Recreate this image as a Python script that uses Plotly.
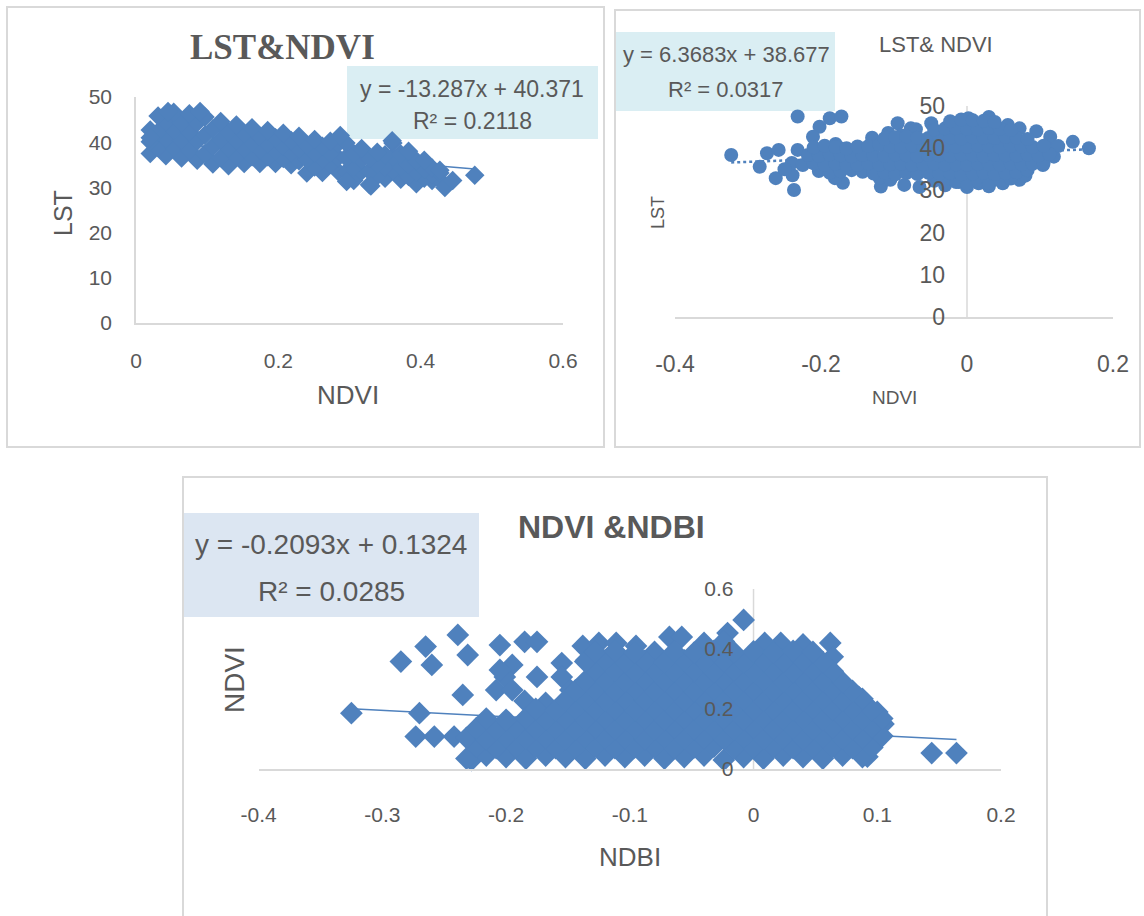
import plotly.graph_objects as go

W, H = 1144, 916

# ---------------- data ----------------
# Chart 1: LST vs NDVI (diamonds) -- rows read across the dense band
c1_row1_x = [0.020, 0.042, 0.064, 0.086, 0.108, 0.130, 0.152, 0.174, 0.196, 0.218, 0.240, 0.262, 0.284, 0.306, 0.328, 0.350, 0.372, 0.394, 0.416]
c1_row1_y = [37.5, 37.0, 36.5, 36.0, 35.2, 34.8, 35.3, 35.3, 35.3, 35.0, 33.2, 33.3, 33.5, 31.5, 30.6, 32.0, 31.8, 30.8, 31.5]
c1_row2_x = [0.031, 0.053, 0.075, 0.097, 0.119, 0.141, 0.163, 0.185, 0.207, 0.229, 0.251, 0.273, 0.295, 0.317, 0.339, 0.361, 0.383, 0.405, 0.427]
c1_row2_y = [38.8, 38.8, 38.2, 37.5, 36.6, 36.9, 36.8, 36.8, 36.4, 35.9, 34.5, 35.1, 33.4, 33.6, 32.5, 33.8, 32.4, 32.0, 31.7]
c1_row3_x = [0.020, 0.042, 0.064, 0.086, 0.108, 0.130, 0.152, 0.174, 0.196, 0.218, 0.240, 0.262, 0.284, 0.306, 0.328, 0.350, 0.372, 0.394, 0.416]
c1_row3_y = [40.1, 40.8, 40.4, 40.2, 39.1, 38.6, 38.6, 38.3, 38.1, 37.7, 36.3, 36.2, 36.6, 34.5, 33.6, 34.6, 34.6, 33.4, 32.9]
c1_row4_x = [0.031, 0.053, 0.075, 0.097, 0.119, 0.141, 0.163, 0.185, 0.207, 0.229, 0.251, 0.273, 0.295, 0.317, 0.339, 0.361, 0.383, 0.405, 0.427]
c1_row4_y = [42.3, 42.7, 42.3, 41.6, 40.6, 40.4, 40.0, 39.7, 39.2, 38.6, 37.6, 37.6, 36.6, 36.1, 35.2, 36.8, 35.2, 34.0, 33.2]
c1_row5_x = [0.020, 0.042, 0.064, 0.086, 0.108, 0.130, 0.152, 0.174, 0.196, 0.218, 0.240, 0.262, 0.284, 0.306, 0.328, 0.350, 0.372, 0.394, 0.416]
c1_row5_y = [42.7, 44.6, 44.3, 44.3, 43.0, 42.3, 41.9, 41.3, 41.0, 40.4, 39.4, 39.1, 39.7, 37.5, 36.5, 37.2, 37.4, 35.9, 34.3]
c1_row6_x = [0.031, 0.053, 0.075, 0.097, 0.119, 0.141, 0.163, 0.185, 0.207, 0.229, 0.251, 0.273, 0.295, 0.317, 0.339, 0.361, 0.383, 0.405, 0.427]
c1_row6_y = [45.8, 46.6, 46.3, 45.6, 44.6, 43.8, 43.2, 42.6, 42.0, 41.3, 40.6, 40.2, 39.8, 38.6, 37.8, 39.8, 38.0, 36.0, 33.8]
c1_extra_x = [0.020, 0.287, 0.434, 0.445, 0.476, 0.045, 0.090, 0.360, 0.330, 0.296]
c1_extra_y = [41.0, 41.5, 30.0, 31.5, 32.7, 46.8, 46.8, 40.3, 30.3, 31.3]
c1_ndvi = c1_row1_x + c1_row2_x + c1_row3_x + c1_row4_x + c1_row5_x + c1_row6_x + c1_extra_x
c1_lst = c1_row1_y + c1_row2_y + c1_row3_y + c1_row4_y + c1_row5_y + c1_row6_y + c1_extra_y
c1_slope, c1_intercept, c1_r2 = -13.287, 40.371, 0.2118

# Chart 2: LST vs NDVI (circles)
c2_out_x = [
    -0.323, -0.284, -0.274, -0.258, -0.262, -0.237, -0.239, -0.232, -0.232, -0.188,
    -0.172, -0.202, -0.211, -0.202, -0.174, -0.170, -0.181, -0.118, -0.095, -0.077,
    -0.049, -0.086, -0.108, 0.002, 0.030, 0.056, 0.072, 0.114, 0.145, 0.167,
    0.104, 0.119, 0.072, 0.049, 0.016, -0.011, -0.044,
    -0.240, -0.250, -0.120, -0.105, -0.065, -0.030, 0.000, 0.030, 0.080, 0.110,
    0.125, 0.095, -0.070, -0.090, -0.130, -0.110, -0.180,
]
c2_out_y = [
    38.4, 35.6, 38.8, 39.6, 32.9, 30.1, 33.6, 39.6, 47.5, 47.1,
    47.5, 45.1, 42.7, 36.5, 40.0, 31.8, 32.9, 30.9, 45.9, 44.7,
    45.9, 31.3, 43.6, 47.1, 47.4, 45.5, 44.7, 42.7, 41.5, 40.0,
    36.0, 38.0, 32.5, 31.7, 31.7, 32.0, 33.2,
    36.5, 35.0, 33.0, 32.5, 30.8, 31.2, 30.8, 31.0, 33.5, 40.0,
    40.5, 44.0, 44.5, 43.0, 42.5, 42.5, 41.0,
]
c2_r1_x = [-0.045, -0.030, -0.015, 0.000, 0.015, 0.030, 0.045, 0.060]
c2_r1_y = [32.3, 31.8, 32.0, 31.6, 32.2, 31.8, 32.4, 32.8]
c2_r2_x = [-0.203, -0.188, -0.173, -0.158, -0.143, -0.128, -0.113, -0.098, -0.083, -0.068,
           -0.053, -0.038, -0.023, -0.008, 0.008, 0.023, 0.038, 0.053, 0.068, 0.083]
c2_r2_y = [34.6, 34.2, 34.5, 34.8, 34.4, 34.0, 34.3, 33.8, 34.1, 33.9,
           34.2, 34.0, 34.1, 33.8, 34.0, 34.2, 33.9, 34.1, 34.3, 34.8]
c2_r3_x = [-0.225, -0.210, -0.195, -0.180, -0.165, -0.150, -0.135, -0.120, -0.105, -0.090, -0.075, -0.060,
           -0.045, -0.030, -0.015, 0.000, 0.015, 0.030, 0.045, 0.060, 0.075, 0.090, 0.105]
c2_r3_y = [36.0, 36.4, 36.1, 36.3, 36.2, 36.0, 36.4, 36.1, 36.2, 36.3, 36.0, 36.2,
           36.4, 36.1, 36.2, 36.0, 36.3, 36.2, 36.1, 36.4, 36.2, 36.3, 36.5]
c2_r4_x = [-0.218, -0.203, -0.188, -0.173, -0.158, -0.143, -0.128, -0.113, -0.098, -0.083, -0.068, -0.053,
           -0.038, -0.023, -0.008, 0.008, 0.023, 0.038, 0.053, 0.068, 0.083, 0.098, 0.113]
c2_r4_y = [38.4, 38.2, 38.5, 38.3, 38.1, 38.4, 38.3, 38.2, 38.5, 38.3, 38.1, 38.4,
           38.3, 38.2, 38.5, 38.3, 38.1, 38.4, 38.3, 38.2, 38.5, 38.3, 38.6]
c2_r5_x = [-0.210, -0.195, -0.180, -0.165, -0.150, -0.135, -0.120, -0.105, -0.090, -0.075, -0.060,
           -0.045, -0.030, -0.015, 0.000, 0.015, 0.030, 0.045, 0.060, 0.075, 0.090, 0.105]
c2_r5_y = [40.2, 40.6, 40.3, 40.0, 40.4, 40.5, 40.8, 40.4, 40.3, 40.6, 40.4,
           40.2, 40.5, 40.4, 40.3, 40.6, 40.4, 40.2, 40.5, 40.4, 40.3, 40.6]
c2_r6_x = [-0.113, -0.098, -0.083, -0.068, -0.053, -0.038, -0.023, -0.008, 0.008, 0.023, 0.038, 0.053, 0.068, 0.083]
c2_r6_y = [42.3, 42.6, 42.8, 42.5, 42.4, 42.7, 42.5, 42.3, 42.6, 42.5, 42.4, 42.7, 42.5, 42.2]
c2_r7_x = [-0.045, -0.030, -0.015, 0.000, 0.015, 0.030, 0.045, 0.060]
c2_r7_y = [44.4, 44.7, 44.8, 44.6, 44.5, 44.8, 44.6, 44.3]
c2_r8_x = [-0.023, -0.008, 0.008, 0.023, 0.038]
c2_r8_y = [46.4, 46.8, 46.6, 46.5, 46.2]
c2_ndvi = c2_out_x + c2_r1_x + c2_r2_x + c2_r3_x + c2_r4_x + c2_r5_x + c2_r6_x + c2_r7_x + c2_r8_x
c2_lst = c2_out_y + c2_r1_y + c2_r2_y + c2_r3_y + c2_r4_y + c2_r5_y + c2_r6_y + c2_r7_y + c2_r8_y
c2_slope, c2_intercept, c2_r2 = 6.3683, 38.677, 0.0317

# Chart 3: NDVI vs NDBI (diamonds)
c3_out_x = [
    -0.325, -0.270, -0.273, -0.258, -0.242, -0.285, -0.265, -0.260, -0.239, -0.231,
    -0.235, -0.205, -0.185, -0.175, -0.195, -0.228, 0.144, 0.164, 0.102, 0.092,
    0.062, 0.064, -0.008, -0.021, 0.039, -0.068, -0.058, -0.138, -0.125, -0.111,
    -0.095, -0.155, 0.022, 0.009,
    -0.208, -0.201, -0.195, -0.185, -0.175, -0.205, -0.168, -0.155, -0.148, -0.128,
    -0.121, -0.108, -0.135, -0.115, -0.100, -0.090, -0.080,
    0.070, 0.085, 0.100, 0.105, -0.040, -0.024, 0.040,
]
c3_out_y = [
    0.186, 0.186, 0.108, 0.108, 0.108, 0.358, 0.408, 0.347, 0.447, 0.380,
    0.247, 0.413, 0.424, 0.424, 0.347, 0.030, 0.053, 0.053, 0.163, 0.041,
    0.420, 0.374, 0.497, 0.453, 0.386, 0.440, 0.440, 0.410, 0.420, 0.420,
    0.410, 0.353, 0.420, 0.420,
    0.263, 0.307, 0.263, 0.227, 0.307, 0.330, 0.220, 0.307, 0.263, 0.307,
    0.263, 0.220, 0.363, 0.350, 0.300, 0.360, 0.390,
    0.270, 0.240, 0.190, 0.150, 0.420, 0.425, 0.415,
]
c3_r0_x = [-0.232, -0.216, -0.200, -0.184, -0.168, -0.152, -0.136, -0.120, -0.104, -0.088, -0.072,
           -0.056, -0.040, -0.024, -0.008, 0.008, 0.024, 0.040, 0.056, 0.072, 0.088]
c3_r0_y = [0.035, 0.045, 0.040, 0.035, 0.045, 0.040, 0.035, 0.045, 0.040, 0.045, 0.035,
           0.040, 0.045, 0.030, 0.040, 0.035, 0.045, 0.040, 0.035, 0.045, 0.040]
c3_r1_x = [-0.224, -0.208, -0.192, -0.176, -0.160, -0.144, -0.128, -0.112, -0.096, -0.080, -0.064,
           -0.048, -0.032, -0.016, 0.000, 0.016, 0.032, 0.048, 0.064, 0.080, 0.096]
c3_r1_y = [0.075, 0.070, 0.072, 0.074, 0.070, 0.072, 0.075, 0.070, 0.072, 0.074, 0.070,
           0.072, 0.075, 0.070, 0.072, 0.074, 0.070, 0.072, 0.075, 0.070, 0.072]
c3_r2_x = [-0.232, -0.216, -0.200, -0.184, -0.168, -0.152, -0.136, -0.120, -0.104, -0.088, -0.072,
           -0.056, -0.040, -0.024, -0.008, 0.008, 0.024, 0.040, 0.056, 0.072, 0.088, 0.104]
c3_r2_y = [0.104, 0.100, 0.106, 0.102, 0.104, 0.100, 0.106, 0.102, 0.104, 0.100, 0.106,
           0.102, 0.104, 0.100, 0.106, 0.102, 0.104, 0.100, 0.106, 0.102, 0.104, 0.110]
c3_r3_x = [-0.224, -0.208, -0.192, -0.176, -0.160, -0.144, -0.128, -0.112, -0.096, -0.080, -0.064,
           -0.048, -0.032, -0.016, 0.000, 0.016, 0.032, 0.048, 0.064, 0.080, 0.096]
c3_r3_y = [0.136, 0.132, 0.138, 0.134, 0.136, 0.132, 0.138, 0.134, 0.136, 0.132, 0.138,
           0.134, 0.136, 0.132, 0.138, 0.134, 0.136, 0.132, 0.138, 0.134, 0.140]
c3_r4_x = [-0.216, -0.200, -0.184, -0.168, -0.152, -0.136, -0.120, -0.104, -0.088, -0.072, -0.056,
           -0.040, -0.024, -0.008, 0.008, 0.024, 0.040, 0.056, 0.072, 0.088, 0.104]
c3_r4_y = [0.168, 0.164, 0.170, 0.166, 0.168, 0.164, 0.170, 0.166, 0.168, 0.164, 0.170,
           0.166, 0.168, 0.164, 0.170, 0.166, 0.168, 0.164, 0.170, 0.166, 0.168]
c3_r5_x = [-0.176, -0.160, -0.144, -0.128, -0.112, -0.096, -0.080, -0.064, -0.048,
           -0.032, -0.016, 0.000, 0.016, 0.032, 0.048, 0.064, 0.080, 0.096]
c3_r5_y = [0.200, 0.196, 0.202, 0.198, 0.200, 0.196, 0.202, 0.198, 0.200,
           0.196, 0.202, 0.198, 0.200, 0.196, 0.202, 0.198, 0.200, 0.196]
c3_r6_x = [-0.152, -0.136, -0.120, -0.104, -0.088, -0.072, -0.056, -0.040, -0.024, -0.008, 0.008, 0.024, 0.040, 0.056, 0.072, 0.088]
c3_r6_y = [0.230, 0.232, 0.228, 0.234, 0.230, 0.232, 0.228, 0.234, 0.230, 0.232, 0.228, 0.234, 0.230, 0.232, 0.228, 0.234]
c3_r7_x = [-0.144, -0.128, -0.112, -0.096, -0.080, -0.064, -0.048, -0.032, -0.016, 0.000, 0.016, 0.032, 0.048, 0.064, 0.080]
c3_r7_y = [0.262, 0.264, 0.260, 0.266, 0.262, 0.264, 0.260, 0.266, 0.262, 0.264, 0.260, 0.266, 0.262, 0.264, 0.260]
c3_r8_x = [-0.136, -0.120, -0.104, -0.088, -0.072, -0.056, -0.040, -0.024, -0.008, 0.008, 0.024, 0.040, 0.056, 0.072]
c3_r8_y = [0.294, 0.296, 0.292, 0.298, 0.294, 0.296, 0.292, 0.298, 0.294, 0.296, 0.292, 0.298, 0.294, 0.290]
c3_r9_x = [-0.128, -0.112, -0.096, -0.080, -0.064, -0.048, -0.032, -0.016, 0.000, 0.016, 0.032, 0.048, 0.064]
c3_r9_y = [0.330, 0.328, 0.324, 0.330, 0.326, 0.328, 0.324, 0.330, 0.326, 0.328, 0.324, 0.330, 0.326]
c3_r10_x = [-0.136, -0.120, -0.104, -0.088, -0.072, -0.056, -0.040, -0.024, -0.008, 0.008, 0.024, 0.040, 0.056]
c3_r10_y = [0.358, 0.362, 0.356, 0.360, 0.356, 0.362, 0.358, 0.360, 0.356, 0.362, 0.358, 0.360, 0.356]
c3_r11_x = [-0.128, -0.112, -0.096, -0.064, -0.048, -0.032, -0.016, 0.000, 0.016, 0.032, 0.048]
c3_r11_y = [0.390, 0.394, 0.388, 0.392, 0.388, 0.394, 0.390, 0.392, 0.388, 0.394, 0.390]
c3_ndbi = (c3_out_x + c3_r0_x + c3_r1_x + c3_r2_x + c3_r3_x + c3_r4_x + c3_r5_x + c3_r6_x
           + c3_r7_x + c3_r8_x + c3_r9_x + c3_r10_x + c3_r11_x)
c3_ndvi = (c3_out_y + c3_r0_y + c3_r1_y + c3_r2_y + c3_r3_y + c3_r4_y + c3_r5_y + c3_r6_y
           + c3_r7_y + c3_r8_y + c3_r9_y + c3_r10_y + c3_r11_y)
c3_slope, c3_intercept, c3_r2 = -0.2093, 0.1324, 0.0285

for a, b in [(c1_row1_x, c1_row1_y), (c1_row2_x, c1_row2_y), (c1_row3_x, c1_row3_y), (c1_row4_x, c1_row4_y),
             (c1_row5_x, c1_row5_y), (c1_row6_x, c1_row6_y), (c1_extra_x, c1_extra_y),
             (c2_out_x, c2_out_y), (c2_r1_x, c2_r1_y), (c2_r2_x, c2_r2_y), (c2_r3_x, c2_r3_y), (c2_r4_x, c2_r4_y),
             (c2_r5_x, c2_r5_y), (c2_r6_x, c2_r6_y), (c2_r7_x, c2_r7_y), (c2_r8_x, c2_r8_y),
             (c3_out_x, c3_out_y), (c3_r0_x, c3_r0_y), (c3_r1_x, c3_r1_y), (c3_r2_x, c3_r2_y), (c3_r3_x, c3_r3_y),
             (c3_r4_x, c3_r4_y), (c3_r5_x, c3_r5_y), (c3_r6_x, c3_r6_y), (c3_r7_x, c3_r7_y), (c3_r8_x, c3_r8_y),
             (c3_r9_x, c3_r9_y), (c3_r10_x, c3_r10_y), (c3_r11_x, c3_r11_y)]:
    assert len(a) == len(b), (len(a), len(b))

# tick labels
c1_xticks = [0, 0.2, 0.4, 0.6]
c1_xlabels = ["0", "0.2", "0.4", "0.6"]
lst_yticks = [0, 10, 20, 30, 40, 50]
lst_ylabels = ["0", "10", "20", "30", "40", "50"]
c2_xticks = [-0.4, -0.2, 0, 0.2]
c2_xlabels = ["-0.4", "-0.2", "0", "0.2"]
c3_xticks = [-0.4, -0.3, -0.2, -0.1, 0, 0.1, 0.2]
c3_xlabels = ["-0.4", "-0.3", "-0.2", "-0.1", "0", "0.1", "0.2"]
c3_yticks = [0, 0.2, 0.4, 0.6]
c3_ylabels = ["0", "0.2", "0.4", "0.6"]

# ---------------- styling ----------------
BLUE = "#4f81bd"
GREY = "#595959"
AXIS = "#d9d9d9"
SANS = "Liberation Sans, Arial, sans-serif"
SERIF = "Liberation Serif, Times New Roman, serif"


def fx(p):
    return p / W


def fy(p):
    return 1 - p / H


def trend(xs, slope, intercept):
    lo, hi = min(xs), max(xs)
    return [lo, hi], [slope * lo + intercept, slope * hi + intercept]


fig = go.Figure()

# chart 1
tx, ty = trend(c1_ndvi, c1_slope, c1_intercept)
fig.add_trace(go.Scatter(x=tx, y=ty, mode="lines", line=dict(color=BLUE, width=1.5),
                         xaxis="x", yaxis="y", showlegend=False, hoverinfo="skip"))
fig.add_trace(go.Scatter(x=c1_ndvi, y=c1_lst, mode="markers", cliponaxis=False,
                         marker=dict(symbol="diamond", size=15, color=BLUE, line=dict(width=0)),
                         xaxis="x", yaxis="y", showlegend=False))
# chart 2
tx, ty = trend(c2_ndvi, c2_slope, c2_intercept)
fig.add_trace(go.Scatter(x=tx, y=ty, mode="lines", line=dict(color=BLUE, width=2.5, dash="dot"),
                         xaxis="x2", yaxis="y2", showlegend=False, hoverinfo="skip"))
fig.add_trace(go.Scatter(x=c2_ndvi, y=c2_lst, mode="markers", cliponaxis=False,
                         marker=dict(symbol="circle", size=14, color=BLUE, line=dict(width=0)),
                         xaxis="x2", yaxis="y2", showlegend=False))
# chart 3
tx, ty = trend(c3_ndbi, c3_slope, c3_intercept)
fig.add_trace(go.Scatter(x=tx, y=ty, mode="lines", line=dict(color=BLUE, width=1.5),
                         xaxis="x3", yaxis="y3", showlegend=False, hoverinfo="skip"))
fig.add_trace(go.Scatter(x=c3_ndbi, y=c3_ndvi, mode="markers", cliponaxis=False,
                         marker=dict(symbol="diamond", size=17.5, color=BLUE, line=dict(width=0)),
                         xaxis="x3", yaxis="y3", showlegend=False))

common = dict(showgrid=False, zeroline=False, showline=True, linecolor=AXIS, linewidth=1.5,
              ticks="", fixedrange=True, automargin=False, title=None)

x1_dom = [fx(136), fx(563)]
x2_dom = [fx(675), fx(1113)]
x3_dom = [fx(258.6), fx(1001)]
x2_rng = [-0.4, 0.2]
x3_rng = [-0.4, 0.2]
lst_rng = [0, 50]
c3_yrng = [0, 0.6]


def zero_pos(dom, rng):
    return dom[0] + (0 - rng[0]) / (rng[1] - rng[0]) * (dom[1] - dom[0])


free_y = dict(common, showline=False)

fig.update_layout(
    width=W, height=H, margin=dict(l=0, r=0, t=0, b=0, pad=0), autosize=False,
    paper_bgcolor="white", plot_bgcolor="rgba(0,0,0,0)",
    showlegend=False,
    xaxis=dict(domain=x1_dom, range=[0, 0.6], anchor="y", tickvals=c1_xticks, ticktext=c1_xlabels,
               tickfont=dict(family=SANS, size=21, color=GREY), ticklabelstandoff=18, **common),
    yaxis=dict(domain=[fy(323), fy(97)], range=lst_rng, anchor="x", tickvals=lst_yticks, ticktext=lst_ylabels,
               tickfont=dict(family=SANS, size=21, color=GREY), ticklabelstandoff=18, **common),
    xaxis2=dict(domain=x2_dom, range=x2_rng, anchor="y2", tickvals=c2_xticks, ticktext=c2_xlabels,
                tickfont=dict(family=SANS, size=23, color=GREY), ticklabelstandoff=26, **common),
    yaxis2=dict(domain=[fy(317), fy(106)], range=lst_rng, anchor="free", position=zero_pos(x2_dom, x2_rng),
                tickvals=lst_yticks, ticktext=lst_ylabels,
                tickfont=dict(family=SANS, size=23, color=GREY), ticklabelstandoff=22, **free_y),
    xaxis3=dict(domain=x3_dom, range=x3_rng, anchor="y3", tickvals=c3_xticks, ticktext=c3_xlabels,
                tickfont=dict(family=SANS, size=21, color=GREY), ticklabelstandoff=26, **common),
    yaxis3=dict(domain=[fy(769), fy(589)], range=c3_yrng, anchor="free", position=zero_pos(x3_dom, x3_rng),
                tickvals=c3_yticks, ticktext=c3_ylabels,
                tickfont=dict(family=SANS, size=21, color=GREY), ticklabelstandoff=20, **free_y),
)

shapes = []
# panel borders
for (x0, y0, x1, y1) in [(7, 7, 604, 447), (615, 10, 1140, 447), (183, 477, 1047, 918)]:
    shapes.append(dict(type="rect", xref="paper", yref="paper", x0=fx(x0), x1=fx(x1), y0=fy(y1), y1=fy(y0),
                       line=dict(color=AXIS, width=2), fillcolor="rgba(0,0,0,0)", layer="below"))
# equation boxes
for (x0, y0, x1, y1, col) in [(347, 66, 598, 139, "#daeef3"), (616, 32, 835, 111, "#daeef3"),
                              (184, 513, 479, 617, "#dce6f2")]:
    shapes.append(dict(type="rect", xref="paper", yref="paper", x0=fx(x0), x1=fx(x1), y0=fy(y1), y1=fy(y0),
                       line=dict(width=0), fillcolor=col, layer="below"))
# vertical value-axis lines crossing at x = 0, drawn beneath the markers
shapes.append(dict(type="line", xref="x2", yref="y2", x0=0, x1=0, y0=lst_rng[0], y1=lst_rng[1],
                   line=dict(color=AXIS, width=1.5), layer="below"))
shapes.append(dict(type="line", xref="x3", yref="y3", x0=0, x1=0, y0=c3_yrng[0], y1=c3_yrng[1],
                   line=dict(color=AXIS, width=1.5), layer="below"))
fig.update_layout(shapes=shapes)


def ann(text, x, y, size, family=SANS, angle=0, weight="normal"):
    return dict(text=text, x=fx(x), y=fy(y), xref="paper", yref="paper", showarrow=False,
                xanchor="center", yanchor="middle", textangle=angle,
                font=dict(family=family, size=size, color=GREY, weight=weight))


annotations = [
    ann("LST&NDVI", 282, 47, 35, family=SERIF, weight="bold"),
    ann("NDVI", 348, 395, 26),
    ann("LST", 63, 213, 25, angle=-90),
    ann(f"y = {c1_slope}x + {c1_intercept}", 472, 89, 23),
    ann(f"R² = {c1_r2}", 472, 121, 23),

    ann("LST& NDVI", 936, 45, 22),
    ann("NDVI", 894, 398, 19),
    ann("LST", 658, 213, 18, angle=-90),
    ann(f"y = {c2_slope}x + {c2_intercept}", 726, 55, 22),
    ann(f"R² = {c2_r2}", 726, 90, 22),

    ann("NDVI &NDBI", 611, 527, 32, weight="bold"),
    ann("NDBI", 630, 857, 26),
    ann("NDVI", 234, 680, 28, angle=-90),
    ann(f"y = {c3_slope}x + {c3_intercept}", 331, 544, 28),
    ann(f"R² = {c3_r2}", 331, 591, 28),
]
fig.update_layout(annotations=annotations)

fig.write_html("out.html")
